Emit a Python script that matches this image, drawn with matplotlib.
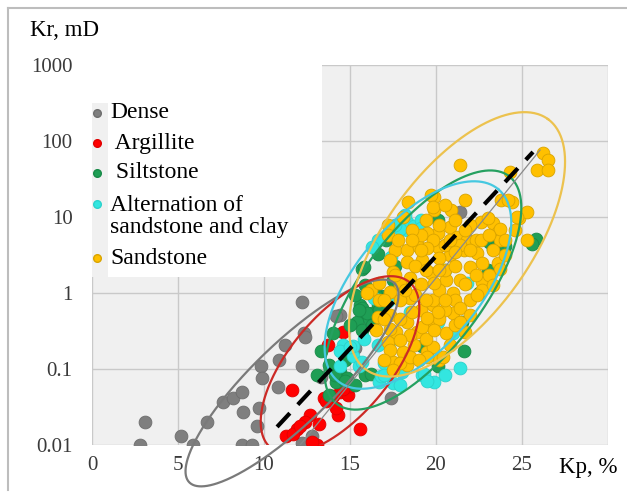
import numpy as np
import matplotlib.pyplot as plt
import matplotlib as mpl
from matplotlib.patches import Rectangle

mpl.rcParams['font.family'] = ['Liberation Serif', 'DejaVu Serif']

# Dense
kp_dense = [3.1, 2.8, 5.2, 5.9, 6.7, 7.6, 8.2, 8.7, 8.8, 8.7, 9.3, 9.6, 9.7, 9.8, 9.9, 10.9,
            10.8, 11.2, 12.2, 12.3, 12.4, 12.2, 12.2, 13.3, 12.8, 17.4, 14.4, 14.2, 21.4, 15.3]
kr_dense = [0.020, 0.010, 0.013, 0.010, 0.020, 0.037, 0.042, 0.050, 0.027, 0.010, 0.010, 0.018,
            0.031, 0.11, 0.076, 0.13, 0.058, 0.21, 0.11, 0.30, 0.26, 0.76, 0.0105, 0.078, 0.013,
            0.042, 0.51, 0.50, 11.7, 0.19]

# Argillite
kp_arg = [11.6, 13.7, 14.4, 13.5, 14.0, 14.9, 12.7, 12.4, 11.9, 11.3, 11.7, 13.1, 14.3, 15.6,
          14.6, 13.2, 14.2, 12.8, 13.6, 15.0, 12.1, 14.6]
kr_arg = [0.053, 0.21, 0.050, 0.042, 0.044, 0.046, 0.025, 0.020, 0.016, 0.013, 0.014, 0.010,
          0.025, 0.016, 0.31, 0.019, 0.031, 0.011, 0.038, 0.060, 0.018, 0.055]

# Siltstone
kp_silt = [15.7, 16.0, 15.6, 15.8, 16.1, 16.3, 15.4, 15.7, 16.6, 13.3, 13.1, 14.4, 14.8, 14.2,
           15.9, 14.1, 14.7, 16.2, 23.1, 24.0, 25.8, 25.6, 23.3, 15.8, 15.7, 16.0, 21.6, 20.1,
           17.1, 16.6, 21.5, 20.1, 14.0, 15.0, 16.8, 17.5, 18.0, 19.2, 22.5, 23.0,
           15.3, 15.9, 16.5, 15.5, 16.3, 16.7, 15.0, 13.8, 14.7, 15.3, 13.8, 17.6]
kr_silt = [2.1, 1.1, 0.70, 0.51, 0.45, 0.55, 0.41, 0.33, 0.72, 0.17, 0.083, 0.091, 0.075, 0.068,
           0.083, 0.083, 0.070, 0.085, 4.7, 4.1, 5.2, 4.4, 3.8, 2.2, 0.64, 0.55, 0.17, 9.1,
           5.0, 3.3, 0.42, 0.11, 0.30, 0.16, 0.90, 1.5, 0.12, 0.20, 1.0, 2.0,
           0.94, 1.27, 0.94, 0.60, 0.38, 0.60, 0.38, 0.113, 0.131, 0.062, 0.046, 2.3]

# Alternation of sandstone and clay
kp_alt = [16.6, 14.6, 14.4, 15.2, 15.5, 16.7, 17.5, 17.2, 16.4, 18.5, 19.2, 19.9, 18.3, 18.9,
          16.6, 21.8, 20.1, 19.3, 16.8, 14.4, 15.2, 18.3, 18.7, 17.9, 19.1, 16.3, 19.5, 18.0,
          17.0, 17.8, 21.0, 15.8, 17.4, 20.5,
          17.6, 18.2, 19.1, 17.0, 17.9, 20.5, 21.4, 15.0, 15.7]
kr_alt = [0.21, 0.21, 0.17, 0.15, 0.11, 0.068, 0.066, 0.79, 0.85, 0.56, 0.083, 0.068, 6.8, 7.2,
          5.0, 1.35, 0.42, 0.085, 0.080, 0.11, 0.20, 8.6, 7.5, 7.0, 9.1, 4.0, 0.070, 0.090,
          0.12, 0.25, 0.30, 0.25, 3.0, 2.0,
          7.9, 10.6, 7.2, 0.083, 0.062, 0.083, 0.103, 0.195, 0.124]

# Sandstone
kp_sand = [26.2, 26.5, 25.9, 26.5, 21.4, 24.3, 20.9, 23.8, 24.4, 24.8, 25.3, 22.6, 23.3, 23.6,
           23.7, 25.3, 19.9, 19.9, 20.1, 20.8, 21.2, 21.8, 21.6, 22.4, 23.6, 22.7, 20.8, 20.1,
           19.7, 19.8, 18.1, 18.4, 17.2, 17.2, 19.4, 19.5, 17.6, 18.3, 19.0, 19.8, 17.3, 18.3,
           19.2, 17.5, 18.5, 19.7, 17.3, 17.2, 17.7, 18.3, 18.9, 18.1, 17.5, 18.3, 18.7, 19.7,
           19.5, 19.8, 18.5, 17.3, 22.0, 23.7, 22.7, 22.7, 22.0, 21.0, 20.6, 21.7, 19.8, 20.2,
           19.5, 19.2, 19.8, 20.6, 21.0, 17.3, 17.9, 17.5, 18.5, 20.4, 16.2, 16.7, 16.6, 17.3,
           21.7, 23.0, 23.7, 24.7, 24.2, 19.1, 20.2, 20.5, 21.1, 21.4, 22.3, 19.1, 20.5, 21.1,
           20.2, 17.9, 18.8, 21.4, 20.5, 19.1, 16.7, 17.9, 23.1, 23.3, 24.0, 17.8, 18.6, 20.8,
           22.0, 22.3, 19.5, 21.1, 21.7, 17.9, 18.5, 19.4, 17.0, 16.0,
           20.5, 21.1, 20.2, 21.7, 22.6, 23.1, 22.0, 21.1, 20.2, 19.4, 19.9, 18.8, 19.4, 20.5,
           21.4, 22.0, 20.1, 19.5, 18.6, 17.9, 17.0, 19.0, 19.9, 20.8, 21.4, 22.4, 23.3, 24.0,
           24.6, 17.6, 18.2, 17.0, 16.5, 19.1, 18.6, 20.2]
kr_sand = [69.5, 56, 41.5, 41.5, 48, 39, 12.4, 16.7, 15.7, 9.7, 11.6, 8.6, 8.3, 6.4,
           5.0, 5.0, 18.3, 12.4, 6.2, 7.4, 5.5, 5.0, 3.7, 3.4, 2.5, 2.5, 3.16, 4.0,
           19.5, 13.5, 10, 15.7, 7.9, 5.8, 9.1, 6.2, 3.7, 3.7, 4.0, 5.0, 2.7, 2.56,
           2.7, 1.9, 1.57, 1.83, 0.51, 0.23, 0.31, 0.42, 0.31, 0.167, 0.124, 0.113, 0.21, 0.38,
           0.167, 0.70, 0.86, 1.03, 2.2, 2.1, 1.40, 1.09, 0.81, 0.55, 0.30, 0.31, 0.195, 0.131,
           0.144, 0.36, 0.81, 1.48, 1.0, 0.178, 0.12, 0.097, 0.144, 0.144, 1.09, 1.36, 0.48, 0.34,
           16.7, 9.7, 7.0, 10, 16.7, 1.3, 1.09, 2.0, 2.3, 1.48, 1.7, 0.60, 0.60, 0.38,
           0.45, 0.81, 2.3, 4.3, 4.3, 5.8, 0.81, 1.3, 1.7, 3.7, 3.2, 5.0, 6.7, 5.0,
           7.9, 5.0, 3.9, 0.80, 1.3, 0.45, 0.28, 0.25, 0.45, 1.0,
           14.4, 9.1, 7.9, 6.7, 5.0, 5.8, 3.7, 3.5, 2.9, 2.0, 1.36, 0.94, 0.81, 0.81,
           0.64, 0.51, 0.56, 0.47, 0.56, 0.24, 0.13, 0.13, 0.33, 0.21, 0.42, 0.94, 1.27, 5.0,
           6.7, 1.73, 1.09, 0.81, 0.33, 3.7, 5.0, 2.0]

# ellipses: centre Kp, centre log10(Kr), semi-axes (Kp units), tilt (deg)
ell_names = ['Dense', 'Argillite', 'Siltstone', 'Alternation', 'Sandstone']
ell_cx = [11.63, 14.42, 19.24, 18.95, 21.22]
ell_cly = [-1.184, -0.947, 0.039, 0.105, 0.64]
ell_a = [8.31, 6.28, 8.30, 7.27, 9.0]
ell_b = [2.33, 2.91, 3.49, 3.60, 4.19]
ell_ang = [44, 50, 53, 50, 54]

trend_kp = [10.76, 25.64]
trend_kr = [0.0173, 71.6]
thin_kp = [12.1, 26.05]
thin_kr = [0.010, 76]

leg_labels = ['Dense', ' Argillite', ' Siltstone', 'Alternation of\nsandstone and clay', 'Sandstone']
colors = ['#7f7f7f', '#ff0000', '#1f9e55', '#33e6e0', '#ffc000']
edges = ['#6e6e6e', '#e00000', '#188a48', '#2cd2cc', '#d9a400']

DEC = 76 / 17.2  # Kp units per decade on screen


def ellipse(cx, cly, a, b, ang):
    t = np.linspace(0, 2 * np.pi, 400)
    th = np.radians(ang)
    u = a * np.cos(t) * np.cos(th) - b * np.sin(t) * np.sin(th)
    v = a * np.cos(t) * np.sin(th) + b * np.sin(t) * np.cos(th)
    return cx + u, 10 ** (cly + v / DEC)


fig = plt.figure(figsize=(6.27, 4.95), dpi=100)
ax = fig.add_axes([92 / 627, 1 - 445 / 495, 516 / 627, 380 / 495])
ax.set_facecolor('#f0f0f0')
ax.set_yscale('log')
ax.set_xlim(0, 30)
ax.set_ylim(0.01, 1000)
ax.set_axisbelow(True)
ax.grid(True, color='#c9c9c9', lw=1.0)
ax.minorticks_off()
ax.set_xticks([0, 5, 10, 15, 20, 25, 30])
ax.set_xticklabels(['0', '5', '10', '15', '20', '25', ''])
ax.set_yticks([0.01, 0.1, 1, 10, 100, 1000])
ax.set_yticklabels(['0.01', '0.1', '1', '10', '100', '1000'])
ax.tick_params(length=0, labelsize=15, colors='#3a3a3a')
ax.tick_params(axis='x', pad=8)
ax.tick_params(axis='y', pad=14)
for sp in ax.spines.values():
    sp.set_visible(False)

# white box behind legend
ax.add_patch(Rectangle((0, 0.442), 0.446, 0.6, transform=ax.transAxes,
                       facecolor='white', edgecolor='none', zorder=1))
ax.add_patch(Rectangle((0, 0.442), 0.031, 0.458, transform=ax.transAxes,
                       facecolor='#f0f0f0', edgecolor='none', zorder=1.1))

ms = 85
series = [(kp_dense, kr_dense), (kp_arg, kr_arg), (kp_silt, kr_silt), (kp_alt, kr_alt), (kp_sand, kr_sand)]
for i, (kp, kr) in enumerate(series):
    ax.scatter(kp, kr, s=ms, c=colors[i], edgecolors=edges[i], lw=0.6, zorder=2 + 0.02 * i)

ell_colors = ['#7a7a7a', '#cc2a26', '#25a060', '#45c8e0', '#ecc24e']
for i in range(len(ell_names)):
    ex, ey = ellipse(ell_cx[i], ell_cly[i], ell_a[i], ell_b[i], ell_ang[i])
    ax.plot(ex, ey, color=ell_colors[i], lw=1.6, zorder=3, clip_on=(i != 0))

ax.plot(thin_kp, thin_kr, color='#8a8a8a', lw=0.9, zorder=3)
ax.plot(trend_kp, trend_kr, color='black', lw=3.0, dashes=(4.5, 2.8), zorder=4)

# legend drawn by hand (marker column + labels)
leg_y = [113, 143, 173, 216.5, 258]
leg_my = [113, 143, 173, 204, 258]
for i in range(len(leg_labels)):
    fig.text(110 / 627, 1 - leg_y[i] / 495, leg_labels[i], fontsize=17, ha='left', va='center',
             linespacing=1.12)
    fig.add_artist(plt.Line2D([97 / 627], [1 - leg_my[i] / 495], transform=fig.transFigure,
                              marker='o', ms=5.5, color=colors[i], mec=edges[i], ls='none'))

fig.text(30 / 627, 1 - 31 / 495, 'Kr, mD', fontsize=16.5, ha='left', va='center')
fig.text(588 / 627, 1 - 467 / 495, 'Kp, %', fontsize=16.5, ha='center', va='center')

# outer frame
fig.add_artist(plt.Line2D([8 / 627, 8 / 627], [0.01, 1 - 8 / 495], transform=fig.transFigure,
                          color='#bdbdbd', lw=1.5))
fig.add_artist(plt.Line2D([8 / 627, 1], [1 - 8 / 495, 1 - 8 / 495], transform=fig.transFigure,
                          color='#bdbdbd', lw=1.5))

fig.savefig('out.png', dpi=100)
